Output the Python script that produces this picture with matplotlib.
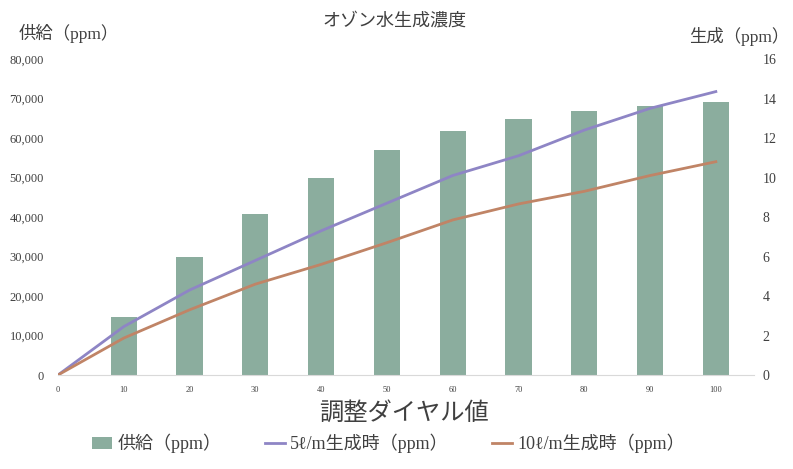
import matplotlib
matplotlib.use("Agg")
import matplotlib.pyplot as plt
from matplotlib.patches import Patch
from matplotlib.lines import Line2D

plt.rcParams['font.family'] = ['Liberation Serif', 'DejaVu Serif', 'Noto Sans CJK JP']

dial = [10, 20, 30, 40, 50, 60, 70, 80, 90, 100]
supply = [14700, 29900, 40800, 49900, 57000, 61700, 64800, 66800, 68100, 69100]
line_x = [0, 10, 20, 30, 40, 50, 60, 70, 80, 90, 100]
gen_5 = [0, 2.45, 4.3, 5.8, 7.3, 8.7, 10.1, 11.1, 12.4, 13.5, 14.35]
gen_10 = [0, 1.87, 3.3, 4.6, 5.6, 6.7, 7.85, 8.66, 9.3, 10.1, 10.8]

bar_color = '#8BAD9E'
c5 = '#8E85C5'
c10 = '#C08466'
txt = '#404040'

fig = plt.figure(figsize=(7.93, 4.69), dpi=100)
ax = fig.add_axes([0.0731, 0.2004, 0.8777, 0.6738])
ax2 = ax.twinx()

ax.bar(dial, supply, width=4.0, color=bar_color, zorder=2)
ax2.plot(line_x, gen_5, color=c5, lw=2)
ax2.plot(line_x, gen_10, color=c10, lw=2)

ax.set_xlim(0, 105.8)
ax.set_ylim(0, 80000)
ax2.set_ylim(0, 16)
ax.set_xticks(line_x)
ax.set_xticklabels([str(v) for v in line_x], fontsize=6, color=txt)
ax.set_yticks(range(0, 80001, 10000))
ax.set_yticklabels([f"{v:,}" for v in range(0, 80001, 10000)], fontsize=9, color=txt)
ax2.set_yticks(range(0, 17, 2))
ax2.set_yticklabels([str(v) for v in range(0, 17, 2)], fontsize=10, color=txt)

for a in (ax, ax2):
    for s in ('top', 'left', 'right'):
        a.spines[s].set_visible(False)
    a.spines['bottom'].set_color('#D9D9D9')
    a.tick_params(length=0)
ax2.spines['bottom'].set_visible(False)
ax.tick_params(axis='y', pad=10)
ax.tick_params(axis='x', pad=8)
ax2.tick_params(axis='y', pad=6)

fig.text(0.498, 0.955, 'オゾン水生成濃度', ha='center', va='center', fontsize=13, color=txt)
fig.text(0.023, 0.928, '供給（ppm）', ha='left', va='center', fontsize=12.5, color=txt)
fig.text(0.995, 0.922, '生成（ppm）', ha='right', va='center', fontsize=12.5, color=txt)
fig.text(0.51, 0.118, '調整ダイヤル値', ha='center', va='center', fontsize=17.5, color=txt)

handles = [Patch(facecolor=bar_color, edgecolor='none'),
           Line2D([0], [0], color=c5, lw=2),
           Line2D([0], [0], color=c10, lw=2)]
labels = ['供給（ppm）', '5ℓ/m生成時（ppm）', '10ℓ/m生成時（ppm）']
fig.legend(handles, labels, loc='center', bbox_to_anchor=(0.49, 0.054), ncol=3,
           frameon=False, fontsize=13, handlelength=1.1, handletextpad=0.3,
           columnspacing=2.4, labelcolor=txt)

fig.savefig('out.png', dpi=100)
